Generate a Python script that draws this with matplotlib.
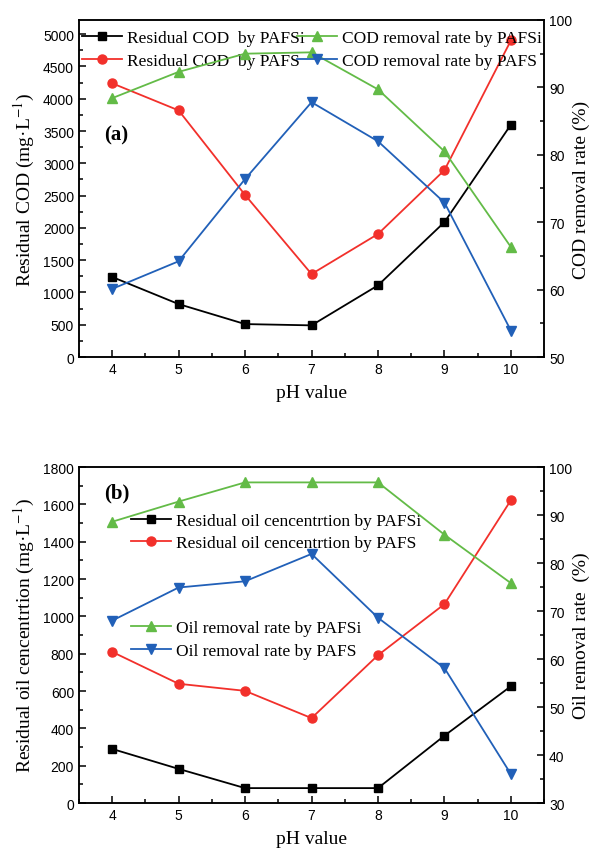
import numpy as np
import matplotlib.pyplot as plt
from matplotlib.ticker import MultipleLocator

plt.rcParams['font.family'] = 'Liberation Serif'
plt.rcParams['mathtext.fontset'] = 'stix'

ph = [4, 5, 6, 7, 8, 9, 10]

# panel (a)
cod_pafsi = [1240, 820, 510, 490, 1110, 2090, 3600]
cod_pafs = [4240, 3820, 2510, 1285, 1905, 2895, 4905]
cod_rate_pafsi = [88.4, 92.3, 95.0, 95.2, 89.7, 80.5, 66.3]
cod_rate_pafs = [60.1, 64.2, 76.4, 87.8, 82.0, 72.9, 53.9]

# panel (b)
oil_pafsi = [290, 183, 80, 80, 80, 361, 626]
oil_pafs = [810, 639, 601, 455, 792, 1066, 1623]
oil_rate_pafsi = [88.6, 92.8, 96.8, 96.8, 96.8, 85.9, 75.8]
oil_rate_pafs = [68.0, 74.9, 76.2, 81.9, 68.6, 58.1, 36.0]

BLACK = 'black'
RED = '#f2302b'
GREEN = '#63bb47'
BLUE = '#2160b8'

tick_font = {'family': 'Liberation Sans', 'size': 10}
LEG = dict(frameon=False, fontsize=12.5, handlelength=2.3, handletextpad=0.3,
           labelspacing=0.38, borderaxespad=0.0, borderpad=0.2)


def style(ax, ax2, ymaj, ymin, rmaj, rmin):
    ax.set_xlim(3.5, 10.5)
    ax.xaxis.set_major_locator(MultipleLocator(1))
    ax.xaxis.set_minor_locator(MultipleLocator(0.5))
    ax.yaxis.set_major_locator(MultipleLocator(ymaj))
    ax.yaxis.set_minor_locator(MultipleLocator(ymin))
    ax2.yaxis.set_major_locator(MultipleLocator(rmaj))
    ax2.yaxis.set_minor_locator(MultipleLocator(rmin))
    for a in (ax, ax2):
        a.tick_params(which='both', direction='in', width=1.1, top=False)
        a.tick_params(which='major', length=5)
        a.tick_params(which='minor', length=3)
        for lab in a.get_xticklabels() + a.get_yticklabels():
            lab.set_fontfamily(tick_font['family'])
            lab.set_fontsize(tick_font['size'])
        for s in a.spines.values():
            s.set_linewidth(1.1)
    ax.tick_params(axis='y', right=False)
    ax2.tick_params(axis='y', left=False)


fig = plt.figure(figsize=(6.02, 8.53), dpi=100)

# ---------- (a) ----------
ax = fig.add_axes([0.131, 0.5803, 0.773, 0.3951])
ax2 = ax.twinx()
ax.plot(ph, cod_pafsi, '-s', color=BLACK, ms=6, lw=1.3, label='Residual COD  by PAFSi')
ax.plot(ph, cod_pafs, '-o', color=RED, ms=6.5, lw=1.3, label='Residual COD  by PAFS')
ax2.plot(ph, cod_rate_pafsi, '-^', color=GREEN, ms=7, lw=1.3, label='COD removal rate by PAFSi')
ax2.plot(ph, cod_rate_pafs, '-v', color=BLUE, ms=7, lw=1.3, label='COD removal rate by PAFS')
ax.set_ylim(0, 5220)
ax2.set_ylim(50, 100)
style(ax, ax2, 500, 250, 10, 5)
ax.set_xlabel('pH value', fontsize=14, labelpad=6)
ax.set_ylabel('Residual COD (mg·L$^{-1}$)', fontsize=14, labelpad=4)
ax2.set_ylabel('COD removal rate (%)', fontsize=14, labelpad=0)
ax.text(0.054, 0.66, '(a)', transform=ax.transAxes, fontsize=15,
        fontweight='bold', va='center', ha='left')
ax.legend(loc='upper left', bbox_to_anchor=(0.0, 0.98), **LEG)
ax2.legend(loc='upper left', bbox_to_anchor=(0.462, 0.98), **LEG)

# ---------- (b) ----------
bx = fig.add_axes([0.131, 0.0574, 0.773, 0.3939])
bx2 = bx.twinx()
bx.plot(ph, oil_pafsi, '-s', color=BLACK, ms=6, lw=1.3, label='Residual oil cencentrtion by PAFSi')
bx.plot(ph, oil_pafs, '-o', color=RED, ms=6.5, lw=1.3, label='Residual oil cencentrtion by PAFS')
bx2.plot(ph, oil_rate_pafsi, '-^', color=GREEN, ms=7, lw=1.3, label='Oil removal rate by PAFSi')
bx2.plot(ph, oil_rate_pafs, '-v', color=BLUE, ms=7, lw=1.3, label='Oil removal rate by PAFS')
bx.set_ylim(0, 1800)
bx2.set_ylim(30, 100)
style(bx, bx2, 200, 100, 10, 5)
bx.set_xlabel('pH value', fontsize=14, labelpad=6)
bx.set_ylabel('Residual oil cencentrtion (mg·L$^{-1}$)', fontsize=14, labelpad=4)
bx2.set_ylabel('Oil removal rate  (%)', fontsize=14, labelpad=0)
bx.text(0.054, 0.925, '(b)', transform=bx.transAxes, fontsize=15,
        fontweight='bold', va='center', ha='left')
bx.legend(loc='upper left', bbox_to_anchor=(0.105, 0.875), **LEG)
bx2.legend(loc='upper left', bbox_to_anchor=(0.105, 0.555), **LEG)

fig.savefig('out.png', dpi=100)
